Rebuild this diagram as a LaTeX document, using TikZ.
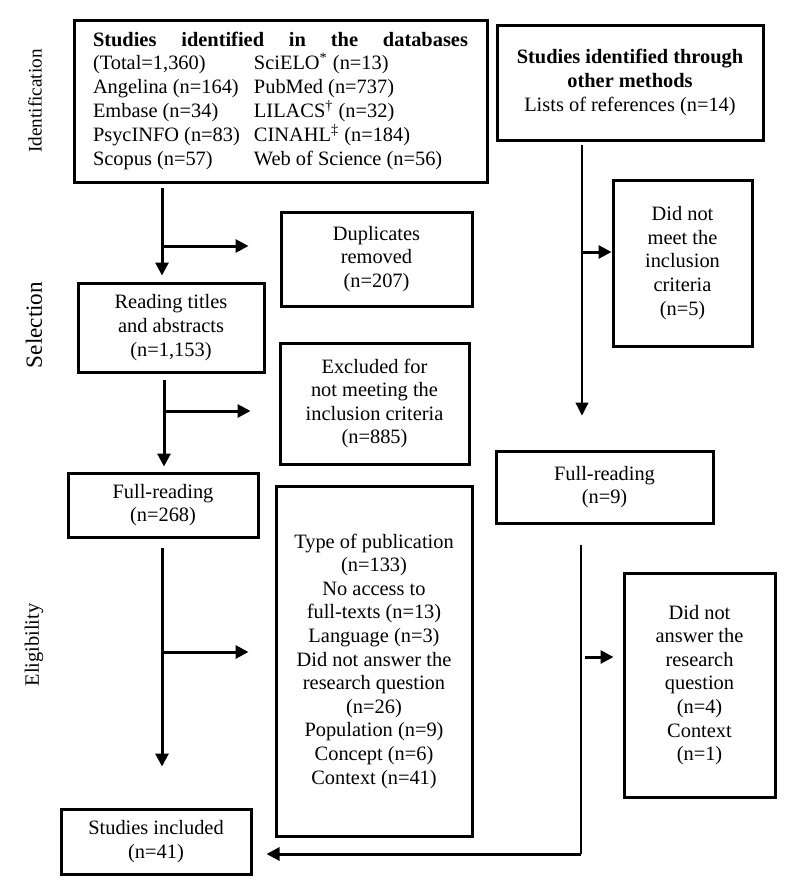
\documentclass[tikz,border=0pt]{standalone}
\usepackage{fontspec}
\setmainfont{Liberation Serif}
\usetikzlibrary{
    arrows.meta,
    positioning
}

\begin{document}
\begin{tikzpicture}[x=0.5pt,y=-0.5pt,
    box/.style={draw, line width=1.5pt, align=center, inner sep=0pt,
                font=\fontsize{10.2}{11.8}\selectfont},
    arr/.style={line width=1.5pt, -{Triangle[length=6.5pt,width=6.5pt]}},
    thinarr/.style={line width=0.6pt, -{Triangle[length=6.5pt,width=6.5pt]}},
    phase/.style={rotate=90, font=\fontsize{10.2}{11.8}\selectfont}]
    \useasboundingbox (0,0) rectangle (794,885);

    % phases
    \node[phase, font=\fontsize{9.6}{11}\selectfont]   (idlab)  at (35,101) {Identification};
    \node[phase, font=\fontsize{11.6}{13}\selectfont]  (sellab) at (34,325) {Selection};
    \node[phase]                                       (elilab) at (34,645) {Eligibility};

    % left column
    \node[box, minimum width=206.5pt, minimum height=81pt] (db) at (280.5,101) {%
        \begin{tabular}{@{}p{80.5pt}@{}l@{}}
        \multicolumn{2}{@{}l@{}}{\makebox[187.5pt][s]{\bfseries Studies identified in the databases}}\\
        (Total=1,360)       & SciELO\textsuperscript{*} (n=13)\\
        Angelina (n=164)    & PubMed (n=737)\\
        Embase (n=34)       & LILACS\textsuperscript{\textdagger} (n=32)\\
        PsycINFO (n=83)     & CINAHL\textsuperscript{\textdaggerdbl} (n=184)\\
        Scopus (n=57)       & Web of Science (n=56)
        \end{tabular}};
    \node[box, minimum width=95.5pt, minimum height=47pt]  (dup)     at (376.5,259)   {Duplicates\\removed\\(n=207)};
    \node[box, minimum width=93pt,   minimum height=44.5pt] (reading) at (171,327.5)  {Reading titles\\and abstracts\\(n=1,153)};
    \node[box, minimum width=94.5pt, minimum height=60.5pt] (excl)    at (374.5,403.5) {Excluded for\\not meeting the\\inclusion criteria\\(n=885)};
    \node[box, minimum width=95pt,   minimum height=32pt]  (full)    at (163,505)     {Full-reading\\(n=268)};
    \node[box, minimum width=98pt,   minimum height=175pt] (type)    at (374,661)     {Type of publication\\(n=133)\\No access to\\full-texts (n=13)\\Language (n=3)\\Did not answer the\\research question\\(n=26)\\Population (n=9)\\Concept (n=6)\\Context (n=41)};
    \node[box, minimum width=95pt,   minimum height=32.5pt] (incl)    at (156,841.5)   {Studies included\\(n=41)};

    % right column
    \node[box, minimum width=133pt,  minimum height=57.5pt] (other) at (630,82.5)  {\textbf{Studies identified through}\\\textbf{other methods}\\Lists of references (n=14)};
    \node[box, minimum width=69.5pt, minimum height=83pt]   (meet)  at (682.5,263) {Did not\\meet the\\inclusion\\criteria\\(n=5)};
    \node[box, minimum width=108.5pt,minimum height=36pt]   (full9) at (604.5,487) {Full-reading\\(n=9)};
    \node[box, minimum width=75.5pt, minimum height=112pt]  (ans)   at (699.5,685) {Did not\\answer the\\research\\question\\(n=4)\\Context\\(n=1)};

    % connectors
    \coordinate (j1) at (162,246);
    \coordinate (j2) at (164,411);
    \coordinate (j3) at (162,652);
    \coordinate (j4) at (582,252);
    \coordinate (j5) at (585,657);
    \coordinate (c1) at (581,854);

    \draw[arr, shorten <=2pt, shorten >=3pt]    (db.south -| j1) -- (reading.north -| j1);
    \draw[arr, shorten >=15.5pt]                (j1) -- (j1 -| dup.west);
    \draw[arr, shorten <=3pt, shorten >=2.5pt]  (reading.south -| j2) -- (full.north -| j2);
    \draw[arr, shorten >=14pt]                  (j2) -- (j2 -| excl.west);
    \draw[arr, shorten <=4.5pt, shorten >=20.5pt] (full.south -| j3) -- (incl.north -| j3);
    \draw[arr, shorten >=13pt]                  (j3) -- (j3 -| type.west);

    \draw[thinarr, shorten <=1.5pt, shorten >=17pt] (other.south -| j4) -- (full9.north -| j4);
    \draw[arr]                                  (j4) -- (j4 -| meet.west);
    \draw[line width=0.6pt, shorten <=10pt]     (full9.south -| c1) -- (c1);
    \draw[arr, shorten >=7pt]                   (c1) -- (c1 -| incl.east);
    \draw[arr, shorten >=4.5pt]                 (j5) -- (j5 -| ans.west);
\end{tikzpicture}
\end{document}
